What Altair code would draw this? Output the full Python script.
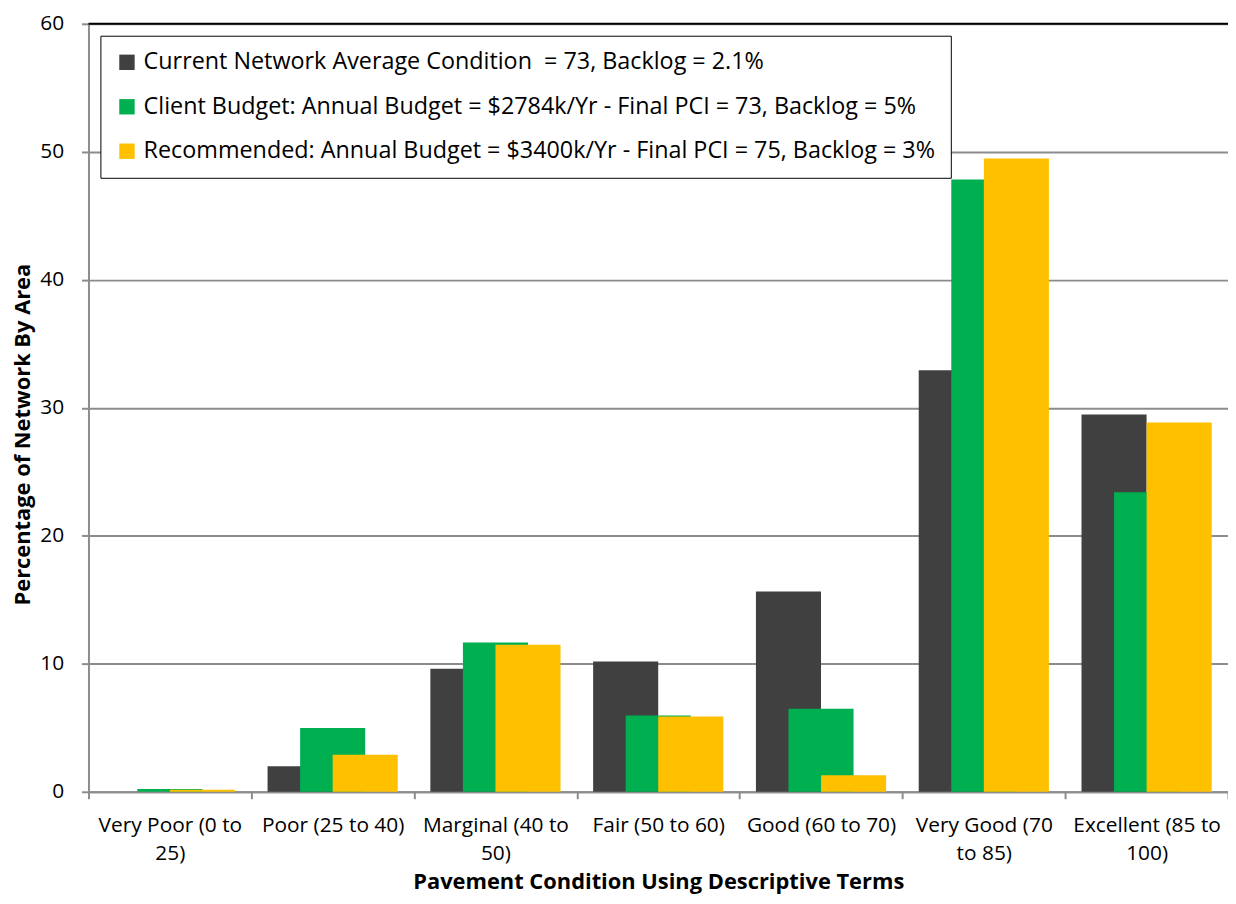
import altair as alt
import pandas as pd

categories = [
    "Very Poor (0 to 25)",
    "Poor (25 to 40)",
    "Marginal (40 to 50)",
    "Fair (50 to 60)",
    "Good (60 to 70)",
    "Very Good (70 to 85)",
    "Excellent (85 to 100)",
]
category_lines = [
    ["Very Poor (0 to", "25)"],
    ["Poor (25 to 40)"],
    ["Marginal (40 to", "50)"],
    ["Fair (50 to 60)"],
    ["Good (60 to 70)"],
    ["Very Good (70", "to 85)"],
    ["Excellent (85 to", "100)"],
]
series = [
    "Current Network Average Condition\u00a0 = 73, Backlog = 2.1%",
    "Client Budget: Annual Budget = $2784k/Yr - Final PCI = 73, Backlog = 5%",
    "Recommended: Annual Budget = $3400k/Yr - Final PCI = 75, Backlog = 3%",
]
colors = ["#404040", "#00B050", "#FFC000"]
current = [0.0, 2.0, 9.62, 10.17, 15.64, 32.93, 29.47]
client = [0.21, 4.98, 11.66, 5.96, 6.48, 47.84, 23.4]
recommended = [0.15, 2.9, 11.48, 5.88, 1.29, 49.47, 28.85]

rows = []
for s, vals in zip(series, [current, client, recommended]):
    for c, v in zip(categories, vals):
        rows.append({"category": c, "series": s, "value": v})
df = pd.DataFrame(rows)

# label expression for two-line tick labels
expr = "datum.label"
for c, lines in reversed(list(zip(categories, category_lines))):
    arr = "[" + ",".join("'" + l + "'" for l in lines) + "]"
    expr = f"datum.label == '{c}' ? {arr} : ({expr})"

FONT = "Open Sans"
GRID = "#8c8c8c"

bars = alt.Chart(df).mark_bar(width=65.5).encode(
    x=alt.X(
        "category:N",
        sort=categories,
        scale=alt.Scale(paddingInner=0, paddingOuter=0),
        axis=alt.Axis(
            title="Pavement Condition Using Descriptive Terms",
            labelAngle=0,
            labelExpr=expr,
            labelFont=FONT,
            labelFontSize=21,
            labelColor="black",
            labelLineHeight=28,
            labelPadding=16,
            labelLimit=400,
            tickBand="extent",
            tickSize=7,
            tickColor=GRID,
            tickWidth=2,
            domainColor=GRID,
            domainWidth=2,
            titleFont=FONT,
            titleFontSize=22,
            titleFontWeight="bold",
            titleColor="black",
            titlePadding=8,
        ),
    ),
    xOffset=alt.XOffset(
        "series:N",
        sort=series,
        scale=alt.Scale(paddingInner=0, paddingOuter=1),
    ),
    y=alt.Y(
        "value:Q",
        scale=alt.Scale(domain=[0, 60], nice=False),
        axis=alt.Axis(
            title="Percentage of Network By Area",
            values=[0, 10, 20, 30, 40, 50, 60],
            labelFont=FONT,
            labelFontSize=21,
            labelColor="black",
            labelPadding=18,
            tickSize=7,
            tickColor=GRID,
            tickWidth=2,
            domainColor=GRID,
            domainWidth=2,
            gridColor=GRID,
            gridWidth=2,
            titleFont=FONT,
            titleFontSize=22,
            titleFontWeight="bold",
            titleColor="black",
            titlePadding=5,
            titleY=413,
        ),
    ),
    color=alt.Color(
        "series:N",
        sort=series,
        scale=alt.Scale(domain=series, range=colors),
        legend=alt.Legend(
            title=None,
            orient="none",
            legendX=12,
            legendY=12,
            direction="vertical",
            symbolType="square",
            symbolSize=240,
            symbolStrokeWidth=0,
            labelFont=FONT,
            labelFontSize=23.5,
            labelColor="black",
            labelLimit=1000,
            labelOffset=5,
            rowPadding=19.75,
            padding=15,
            strokeColor="black",
            fillColor="white",
            cornerRadius=0,
        ),
    ),
)

top_line = alt.Chart().mark_rule(color="black", strokeWidth=2).encode(y=alt.datum(60))

chart = alt.layer(bars, top_line).properties(
    width=1147,
    height=773,
    autosize=alt.AutoSizeParams(type="none"),
    padding={"left": 81, "top": 13, "right": 0, "bottom": 102},
).configure_view(stroke=None)

chart.save("out.html", embed_options={"renderer": "svg", "actions": False})
